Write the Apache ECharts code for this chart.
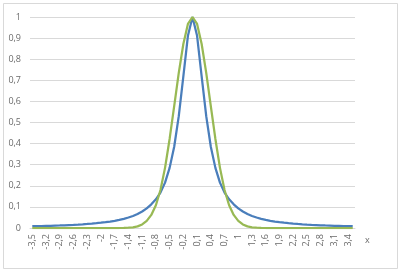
<!DOCTYPE html>
<html>
<head>
<meta charset="utf-8">
<script src="https://cdn.jsdelivr.net/npm/echarts@6/dist/echarts.min.js"></script>
<style>
  html, body { margin: 0; padding: 0; background: #fff; }
  #chart { width: 401px; height: 274px; }
</style>
</head>
<body>
<div id="chart"></div>
<script>
// x categories, -3.5 .. 3.5
var xValues = ['-3,5','-3,4','-3,3','-3,2','-3,1','-3','-2,9','-2,8','-2,7','-2,6',
  '-2,5','-2,4','-2,3','-2,2','-2,1','-2','-1,9','-1,8','-1,7','-1,6',
  '-1,5','-1,4','-1,3','-1,2','-1,1','-1','-0,9','-0,8','-0,7','-0,6',
  '-0,5','-0,4','-0,3','-0,2','-0,1','0','0,1','0,2','0,3','0,4',
  '0,5','0,6','0,7','0,8','0,9','1','1,1','1,2','1,3','1,4',
  '1,5','1,6','1,7','1,8','1,9','2','2,1','2,2','2,3','2,4',
  '2,5','2,6','2,7','2,8','2,9','3','3,1','3,2','3,3','3,4','3,5'];

// blue curve (sharp peak, long tails)
var blueValues = [0.0083,0.0088,0.0093,0.0099,0.0105,0.0113,0.012,0.0129,0.0139,0.0149,
  0.0161,0.0175,0.019,0.0207,0.0227,0.025,0.0276,0.0306,0.0342,0.0385,
  0.0435,0.0497,0.0571,0.0664,0.078,0.093,0.112,0.136,0.168,0.215,
  0.285,0.385,0.530,0.719,0.911,1,0.911,0.719,0.530,0.385,
  0.285,0.215,0.168,0.136,0.112,0.093,0.078,0.0664,0.0571,0.0497,
  0.0435,0.0385,0.0342,0.0306,0.0276,0.025,0.0227,0.0207,0.019,0.0175,
  0.0161,0.0149,0.0139,0.0129,0.012,0.0113,0.0105,0.0099,0.0093,0.0088,0.0083];

// green curve (rounded peak, short tails)
var greenValues = [0,0,0,0,0,0,0,0,0,0,
  0,0,0,0,0,0,0,0,0,0,
  0.0005,0.0013,0.0033,0.0077,0.0168,0.034,0.062,0.108,0.180,0.285,
  0.422,0.578,0.735,0.872,0.967,1,0.967,0.872,0.735,0.578,
  0.422,0.285,0.180,0.108,0.062,0.034,0.0168,0.0077,0.0033,0.0013,
  0.0005,0,0,0,0,0,0,0,0,0,
  0,0,0,0,0,0,0,0,0,0,0];

var yTicks = [0, 1, 0.1];  // min, max, interval

var myChart = echarts.init(document.getElementById('chart'));

var option = {
    animation: false,
    backgroundColor: '#fff',
    graphic: [{
        type: 'rect',
        shape: { x: 3.5, y: 3.5, width: 394, height: 265 },
        style: { fill: 'none', stroke: '#d9d9d9', lineWidth: 1 },
        silent: true
    }],
    grid: { left: 30, right: 46, top: 17, bottom: 46 },
    xAxis: {
        type: 'category',
        data: xValues,
        boundaryGap: true,
        name: 'x',
        nameLocation: 'end',
        nameGap: 10,
        nameTextStyle: { color: '#6b6b6b', fontSize: 9, fontFamily: 'Open Sans', verticalAlign: 'top', padding: [8, 0, 0, 0] },
        axisLine: { lineStyle: { color: '#d9d9d9' } },
        axisTick: { show: false },
        axisLabel: {
            interval: 2,
            rotate: 90,
            margin: 6,
            color: '#6b6b6b',
            fontSize: 9,
            fontFamily: 'Open Sans'
        }
    },
    yAxis: {
        type: 'value',
        min: yTicks[0],
        max: yTicks[1],
        interval: yTicks[2],
        axisLine: { show: false },
        axisTick: { show: false },
        splitLine: { lineStyle: { color: '#d9d9d9' } },
        axisLabel: {
            margin: 9,
            color: '#6b6b6b',
            fontSize: 9,
            fontFamily: 'Open Sans',
            formatter: function (v) {
                return String(Math.round(v * 10) / 10).replace('.', ',');
            }
        }
    },
    series: [{
        type: 'line',
        data: blueValues,
        showSymbol: false,
        lineStyle: { color: '#4a7ebb', width: 2.25 },
        itemStyle: { color: '#4a7ebb' }
    }, {
        type: 'line',
        data: greenValues,
        showSymbol: false,
        lineStyle: { color: '#98b954', width: 2.25 },
        itemStyle: { color: '#98b954' }
    }]
};

myChart.setOption(option);
</script>
</body>
</html>
